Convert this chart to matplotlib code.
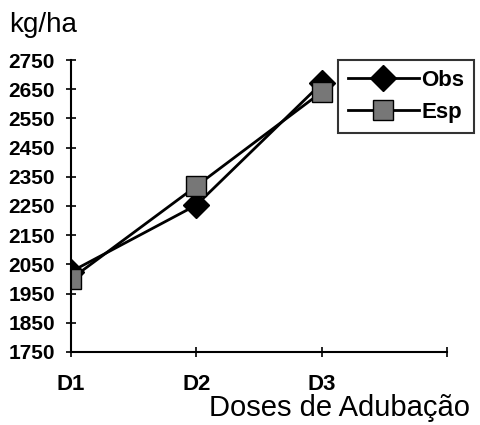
import matplotlib.pyplot as plt

# dados
doses = ["D1", "D2", "D3"]
obs = [2025, 2253, 2670]
esp = [2000, 2318, 2640]
yticks = [1750, 1850, 1950, 2050, 2150, 2250, 2350, 2450, 2550, 2650, 2750]

plt.rcParams["font.family"] = ["Liberation Sans", "DejaVu Sans"]

fig = plt.figure(figsize=(4.81, 4.25), dpi=100)
ax = fig.add_axes([0.1476, 0.1718, 0.929 - 0.1476, 0.6870])

x = list(range(len(doses)))
ax.plot(x, obs, color="black", lw=2, marker="D", ms=13,
        mfc="black", mec="black", label="Obs")
ax.plot(x, esp, color="black", lw=2, marker="s", ms=14,
        mfc="#777777", mec="black", label="Esp")

ax.set_xlim(0, 3)
ax.set_ylim(1750, 2750)
ax.set_xticks([0, 1, 2, 3])
ax.set_xticklabels(doses + [""], fontweight="bold", fontsize=16)
ax.set_yticks(yticks)
ax.set_yticklabels([str(v) for v in yticks], fontweight="bold", fontsize=15)
ax.tick_params(direction="inout", length=7, width=1.2)
ax.tick_params(axis="x", pad=12)
ax.tick_params(axis="y", pad=8)

for s in ["top", "right"]:
    ax.spines[s].set_visible(False)
for s in ["left", "bottom"]:
    ax.spines[s].set_linewidth(1.5)

fig.text(0.02, 0.925, "kg/ha", fontsize=20)
fig.text(0.978, 0.02, "Doses de Adubação", fontsize=21, ha="right")

leg = ax.legend(loc="upper left", bbox_to_anchor=(0.71, 1.0), frameon=True,
                fancybox=False, edgecolor="black", prop={"weight": "bold", "size": 16},
                handlelength=3.2, handletextpad=0.1, borderpad=0.45,
                labelspacing=0.5, borderaxespad=0.0)
leg.get_frame().set_linewidth(1.5)

fig.savefig("out.png", dpi=100)
